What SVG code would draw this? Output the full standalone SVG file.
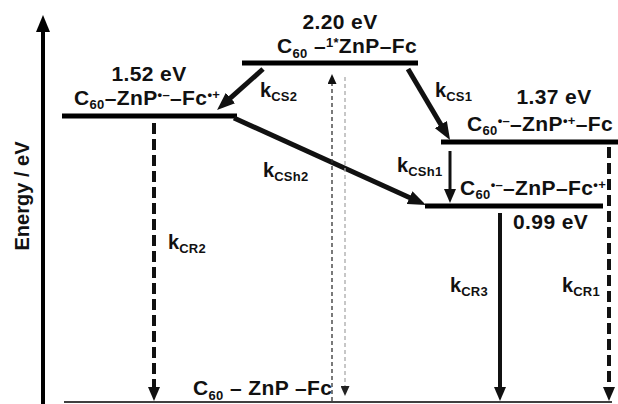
<svg xmlns="http://www.w3.org/2000/svg" width="618" height="404" viewBox="0 0 618 404">
<style>
text{font-family:"Liberation Sans",Arial,sans-serif;font-weight:bold;font-size:20px;fill:#111}
.t{font-size:21px;letter-spacing:0.4px}
.s{font-size:13px;letter-spacing:0.3px}
.lvl{stroke:#000;stroke-width:5;fill:none}
.big{stroke:#111;stroke-width:5;fill:none}
.sol{stroke:#111;stroke-width:4;fill:none}
.dash{stroke:#111;stroke-width:4;fill:none;stroke-dasharray:11 5}
</style>
<defs>
<marker id="hb" markerUnits="userSpaceOnUse" markerWidth="18" markerHeight="14" refX="4" refY="7" orient="auto"><path d="M0,0 L18,7 L0,14 z" fill="#111"/></marker>
<marker id="hm" markerUnits="userSpaceOnUse" markerWidth="14" markerHeight="12" refX="3" refY="6" orient="auto"><path d="M0,0 L14,6 L0,12 z" fill="#111"/></marker>
<marker id="hs" markerUnits="userSpaceOnUse" markerWidth="10" markerHeight="9" refX="1" refY="4.5" orient="auto"><path d="M0,0 L10,4.5 L0,9 z" fill="#111"/></marker>
<marker id="hg" markerUnits="userSpaceOnUse" markerWidth="10" markerHeight="9" refX="1" refY="4.5" orient="auto"><path d="M0,0 L10,4.5 L0,9 z" fill="#222"/></marker>
</defs>

<g id="axis">
<line x1="43" y1="404" x2="43" y2="30" stroke="#000" stroke-width="4"/>
<polygon points="36,32 43,15 50,32" fill="#000"/>
<text transform="translate(29,196) rotate(-90)" text-anchor="middle">Energy / eV</text>
</g>

<g id="ground">
<line x1="64" y1="402" x2="612" y2="402" stroke="#000" stroke-width="1.5"/>
<text class="t" x="193" y="395">C<tspan class="s" dy="5">60</tspan><tspan dy="-5"> – ZnP –Fc</tspan></text>
</g>

<g id="s1">
<line class="lvl" x1="242" y1="63" x2="418" y2="63"/>
<text class="t" x="340" y="29" text-anchor="middle">2.20 eV</text>
<text class="t" x="277" y="53">C<tspan class="s" dy="5">60</tspan><tspan dy="-5"> –</tspan><tspan class="s" dy="-6">1*</tspan><tspan dy="6">ZnP–Fc</tspan></text>
</g>

<g id="s2">
<line class="lvl" x1="62" y1="116" x2="237" y2="116"/>
<text class="t" x="149" y="81" text-anchor="middle">1.52 eV</text>
<text class="t" x="74" y="105">C<tspan class="s" dy="4">60</tspan><tspan dy="-4">–ZnP</tspan><tspan class="s" dy="-6">•–</tspan><tspan dy="6">–Fc</tspan><tspan class="s" dy="-6">•+</tspan></text>
</g>

<g id="s3">
<line class="lvl" x1="441" y1="142" x2="618" y2="142"/>
<text class="t" x="554" y="104" text-anchor="middle">1.37 eV</text>
<text class="t" x="467" y="131">C<tspan class="s" dy="4">60</tspan><tspan class="s" dy="-10">•–</tspan><tspan dy="6">–ZnP</tspan><tspan class="s" dy="-6">•+</tspan><tspan dy="6">–Fc</tspan></text>
</g>

<g id="s4">
<line class="lvl" x1="425" y1="206" x2="603" y2="206"/>
<text class="t" x="460" y="195">C<tspan class="s" dy="4">60</tspan><tspan class="s" dy="-10">•–</tspan><tspan dy="6">–ZnP–Fc</tspan><tspan class="s" dy="-6">•+</tspan></text>
<text class="t" x="513" y="229">0.99 eV</text>
</g>

<g id="connectors">
<line class="big" x1="263" y1="69" x2="227.5" y2="100.7" marker-end="url(#hb)"/>
<line class="big" x1="408" y1="69" x2="442.9" y2="128" marker-end="url(#hb)"/>
<line class="big" x1="234" y1="118" x2="413.2" y2="199.2" marker-end="url(#hb)"/>
<line stroke="#111" stroke-width="3" x1="450" y1="151" x2="450" y2="192" marker-end="url(#hm)"/>
<line class="dash" x1="154" y1="123" x2="154" y2="390" marker-end="url(#hm)"/>
<line class="sol" x1="500" y1="213" x2="500" y2="390" marker-end="url(#hm)"/>
<line class="dash" x1="609" y1="147" x2="609" y2="390" marker-end="url(#hm)"/>
<line stroke="#333" stroke-width="1.3" stroke-dasharray="4 3" x1="332" y1="401" x2="332" y2="83" marker-end="url(#hs)"/>
<line stroke="#aaa" stroke-width="1.3" stroke-dasharray="4 3" x1="345" y1="77" x2="345" y2="387" marker-end="url(#hg)"/>
</g>

<g id="labels">
<text x="260" y="97">k<tspan class="s" dy="4">CS2</tspan></text>
<text x="435" y="97">k<tspan class="s" dy="4">CS1</tspan></text>
<text x="263" y="177">k<tspan class="s" dy="4">CSh2</tspan></text>
<text x="397" y="172">k<tspan class="s" dy="4">CSh1</tspan></text>
<text x="168" y="249">k<tspan class="s" dy="4">CR2</tspan></text>
<text x="450" y="292">k<tspan class="s" dy="4">CR3</tspan></text>
<text x="562" y="292">k<tspan class="s" dy="4">CR1</tspan></text>
</g>
</svg>
